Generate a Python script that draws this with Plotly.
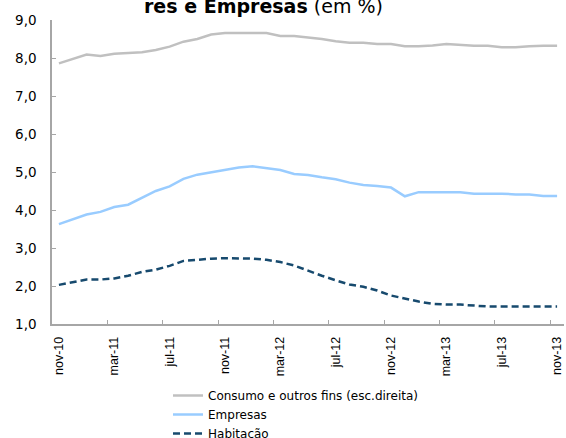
import plotly.graph_objects as go

months = ["nov-10","dez-10","jan-11","fev-11","mar-11","abr-11","mai-11","jun-11","jul-11","ago-11","set-11","out-11",
          "nov-11","dez-11","jan-12","fev-12","mar-12","abr-12","mai-12","jun-12","jul-12","ago-12","set-12","out-12",
          "nov-12","dez-12","jan-13","fev-13","mar-13","abr-13","mai-13","jun-13","jul-13","ago-13","set-13","out-13","nov-13"]

consumo = [7.86,7.97,8.09,8.05,8.11,8.13,8.15,8.21,8.30,8.43,8.50,8.62,
           8.66,8.66,8.66,8.66,8.58,8.58,8.54,8.50,8.44,8.40,8.40,8.37,
           8.37,8.31,8.31,8.33,8.37,8.34,8.32,8.32,8.28,8.28,8.31,8.32,8.32]

empresas = [3.63,3.76,3.88,3.95,4.08,4.14,4.32,4.50,4.62,4.82,4.93,5.00,
            5.07,5.12,5.15,5.09,5.05,4.95,4.92,4.86,4.81,4.72,4.66,4.63,
            4.59,4.36,4.47,4.47,4.47,4.47,4.43,4.43,4.43,4.41,4.41,4.37,4.37]

habitacao = [2.03,2.10,2.17,2.17,2.20,2.27,2.37,2.43,2.53,2.66,2.69,2.72,
             2.73,2.73,2.72,2.69,2.63,2.54,2.40,2.27,2.15,2.04,1.98,1.88,
             1.75,1.66,1.59,1.53,1.51,1.51,1.48,1.46,1.46,1.46,1.46,1.46,1.46]

label_idx = list(range(0, len(months), 4))
tick_labels = [months[i] for i in label_idx]
boundary_ticks = [i - 0.5 for i in range(4, len(months) + 1, 4)]

x = list(range(len(months)))

fig = go.Figure()
fig.add_trace(go.Scatter(x=x, y=consumo, mode="lines", name="Consumo e outros fins (esc.direita)",
                         line=dict(color="#c0c0c0", width=2.5)))
fig.add_trace(go.Scatter(x=x, y=empresas, mode="lines", name="Empresas",
                         line=dict(color="#99ccff", width=2.5)))
fig.add_trace(go.Scatter(x=x, y=habitacao, mode="lines", name="Habitação",
                         line=dict(color="#174a6e", width=2.5, dash="7px,4px")))
# invisible trace to anchor the tick-mark axis
fig.add_trace(go.Scatter(x=[x[0]], y=[habitacao[0]], xaxis="x2", mode="lines",
                         showlegend=False, hoverinfo="skip", line=dict(width=0)))

L, T, W, H = 52, 20, 512, 304
xr = [-0.5, len(months) - 0.5]
fig.update_layout(
    width=566, height=438,
    margin=dict(l=L, r=566 - L - W, t=T, b=438 - T - H, autoexpand=False),
    paper_bgcolor="white", plot_bgcolor="white",
    separators=", ",
    font=dict(family="Liberation Sans, Arial, sans-serif", color="#000000"),
    showlegend=True,
    legend=dict(x=(168 - L) / W, y=(T + H - 381) / H, xanchor="left", yanchor="top",
                font=dict(size=12, family="DejaVu Sans"), tracegroupgap=0, itemwidth=30,
                bgcolor="rgba(0,0,0,0)"),
    xaxis=dict(range=xr, tickmode="array", tickvals=label_idx, ticktext=tick_labels,
               tickangle=-90, ticks="", showgrid=False, zeroline=False, automargin=False,
               showline=True, linecolor="#a6a6a6", linewidth=1.5, ticklabelstandoff=6,
               tickfont=dict(size=12.5)),
    xaxis2=dict(range=xr, overlaying="x", side="bottom", tickmode="array",
                tickvals=boundary_ticks, ticks="inside", ticklen=4, tickcolor="#a6a6a6",
                showticklabels=False, showgrid=False, zeroline=False, showline=False),
    yaxis=dict(range=[1, 9], dtick=1, tickformat=".1f", ticks="inside", ticklen=4,
               tickcolor="#a6a6a6", showline=True, linecolor="#a6a6a6", linewidth=1.5,
               showgrid=False, zeroline=False, automargin=False, ticklabelstandoff=11,
               tickfont=dict(size=13.5, family="DejaVu Sans")),
    annotations=[dict(text="<b>res e Empresas</b> (em %)", x=(263 - L) / W, xref="paper",
                      y=(T + H - 19) / H, yref="paper",
                      xanchor="center", yanchor="bottom", showarrow=False,
                      font=dict(size=19, family="DejaVu Sans"))],
)

fig.write_html("out.html", post_script="document.body.style.margin='0';",
               config={"displayModeBar": False})
